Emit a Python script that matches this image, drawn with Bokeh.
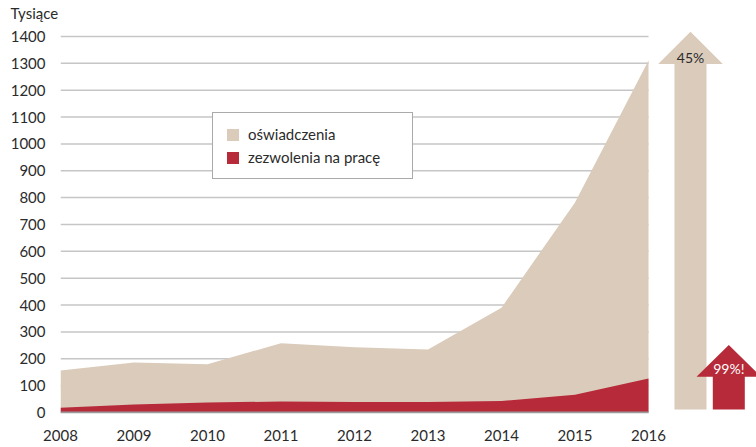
from bokeh.plotting import figure
from bokeh.models import Range1d, FixedTicker, Legend, LegendItem
from bokeh.embed import file_html
from bokeh.resources import INLINE

# ---- data ----
years = [2008, 2009, 2010, 2011, 2012, 2013, 2014, 2015, 2016]
oswiadczenia = [156, 186, 180, 258, 243, 235, 390, 782, 1310]
zezwolenia = [18, 30, 37, 41, 39, 39, 43, 66, 127]
y_ticks = list(range(0, 1500, 100))
series_names = ["oświadczenia", "zezwolenia na pracę"]
growth_labels = ["45%", "99%!"]
unit_label = "Tysiące"

# ---- style / layout ----
BEIGE = "#dacbbb"
RED = "#b72a39"
GRID = "#c6c6c6"
TEXT = "#2b2b2b"
FONT = "Lato"

W, H = 756, 447
LEFT, BOTTOM, TOP = 60, 34, 20
frame_w = W - LEFT
frame_h = H - BOTTOM - TOP
px_per_year = 73.5
px_per_unit = 0.2700
y_start = -1 / px_per_unit

p = figure(width=W, height=H, output_backend="svg", toolbar_location=None,
           x_range=Range1d(years[0], years[0] + frame_w / px_per_year),
           y_range=Range1d(y_start, y_start + frame_h / px_per_unit),
           min_border_left=LEFT, min_border_bottom=BOTTOM,
           min_border_top=0, min_border_right=0)
p.outline_line_color = None
p.xgrid.visible = False
p.ygrid.visible = False
p.background_fill_color = "white"
p.border_fill_color = "white"

p.title.text = unit_label
p.title.align = "left"
p.title.offset = -50
p.title.standoff = 2
p.title.text_font = FONT
p.title.text_font_size = "15px"
p.title.text_font_style = "normal"
p.title.text_color = TEXT

# grid lines limited to the data span
for t in y_ticks[1:]:
    p.segment(x0=years[0], x1=years[-1], y0=t, y1=t, line_color=GRID, line_width=1.5)

r_osw = p.varea(x=years, y1=0, y2=oswiadczenia, fill_color=BEIGE)
r_zez = p.varea(x=years, y1=0, y2=zezwolenia, fill_color=RED)
p.segment(x0=years[0], x1=years[-1], y0=0, y1=0, line_color="#9a9a9a", line_width=2)

# growth arrows
def arrow(xc, y0, y_head, y_tip, shaft_w, head_w, color):
    xs = [xc - shaft_w / 2, xc - shaft_w / 2, xc - head_w / 2, xc,
          xc + head_w / 2, xc + shaft_w / 2, xc + shaft_w / 2]
    ys = [y0, y_head, y_head, y_tip, y_head, y_head, y0]
    p.patch(xs, ys, fill_color=color, line_color=None)

shaft_w = 32 / px_per_year
head_w = 64.6 / px_per_year
x_a1 = years[-1] + 42 / px_per_year
x_a2 = years[-1] + 80.3 / px_per_year
arrow(x_a1, 11, 1297, 1417, shaft_w, head_w, BEIGE)
arrow(x_a2, 11, 133, 251, shaft_w, head_w, RED)
p.text(x=[x_a1], y=[1322], text=[growth_labels[0]], text_align="center",
       text_baseline="middle", text_font_size="14px", text_color=TEXT,
       text_font={"value": FONT})
p.text(x=[x_a2], y=[163], text=[growth_labels[1]], text_align="center",
       text_baseline="middle", text_font_size="14px", text_color="white",
       text_font={"value": FONT})

# axes
p.xaxis.ticker = FixedTicker(ticks=years)
p.yaxis.ticker = FixedTicker(ticks=y_ticks)
for ax in (p.xaxis[0], p.yaxis[0]):
    ax.axis_line_color = None
    ax.major_tick_line_color = None
    ax.minor_tick_line_color = None
    ax.major_tick_out = 0
    ax.major_tick_in = 0
    ax.major_label_text_font = FONT
    ax.major_label_text_font_size = "15px"
    ax.major_label_text_color = TEXT
p.yaxis.major_label_standoff = 15
p.xaxis.major_label_standoff = 16

legend = Legend(items=[LegendItem(label=series_names[0], renderers=[r_osw]),
                       LegendItem(label=series_names[1], renderers=[r_zez])],
                location=(152, 234), padding=12, spacing=5, margin=0,
                glyph_width=15, glyph_height=15, label_standoff=8, label_width=152,
                label_text_font=FONT, label_text_font_size="15px", label_text_color=TEXT,
                border_line_color="#555555", border_line_width=1,
                background_fill_color="white", background_fill_alpha=1)
p.add_layout(legend)

open("out.html", "w").write(file_html(p, INLINE))
